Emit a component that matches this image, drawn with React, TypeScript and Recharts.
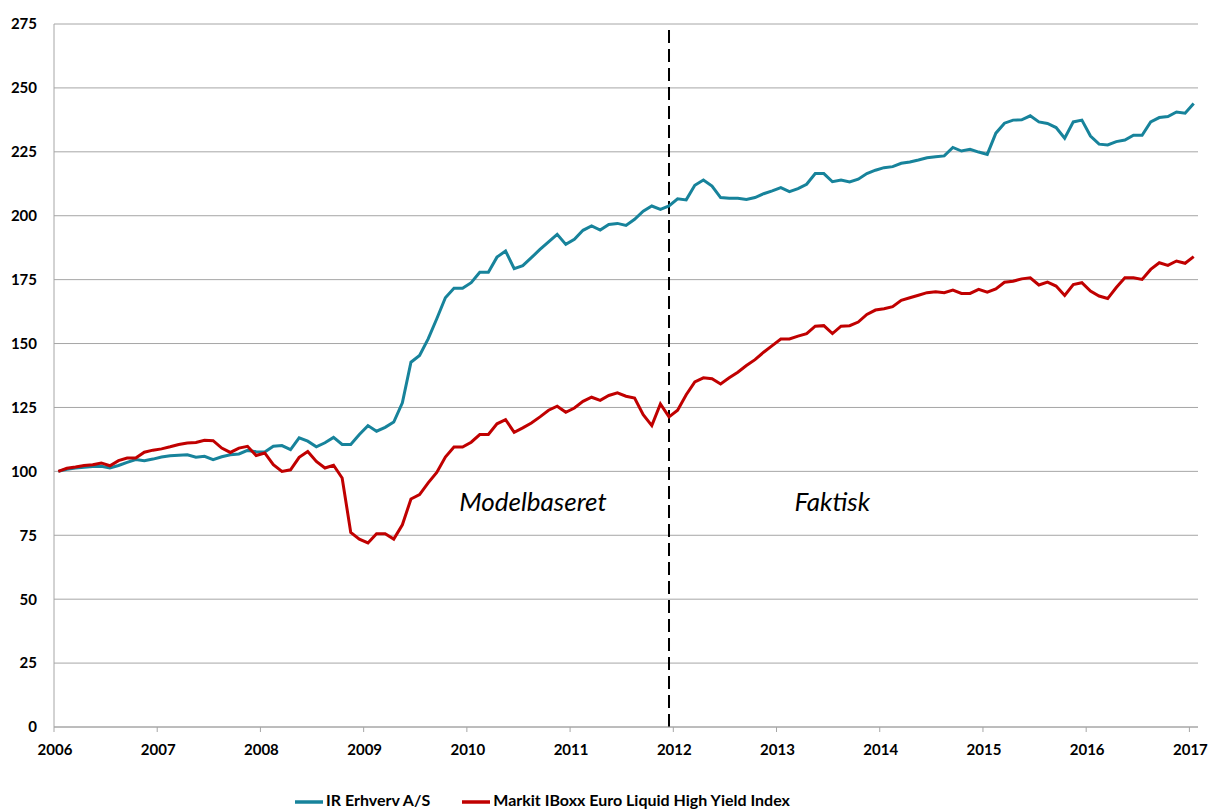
import { LineChart, Line, XAxis, YAxis, CartesianGrid, Legend, ReferenceLine, ReferenceDot } from 'recharts';

const startYear = 2006;
const yearTicks = [2006, 2007, 2008, 2009, 2010, 2011, 2012, 2013, 2014, 2015, 2016, 2017];
const valueTicks = [0, 25, 50, 75, 100, 125, 150, 175, 200, 225, 250, 275];

// monthly index values, Jan 2006 .. Jan 2017 (2006 = 100)
const irErhverv = [
  100, 100.8, 101.3, 101.6, 101.9, 102, 101.3, 102.3, 103.5, 104.6, 104.2, 104.8,
  105.6, 106.1, 106.3, 106.5, 105.5, 105.9, 104.6, 105.7, 106.5, 106.8, 108.2, 107.7,
  107.6, 109.8, 110.1, 108.5, 113.1, 111.8, 109.6, 111.2, 113.3, 110.5, 110.5, 114.4,
  117.9, 115.7, 117.2, 119.3, 126.8, 142.7, 145.3, 151.8, 159.7, 167.9, 171.6, 171.6,
  173.8, 177.9, 177.9, 183.8, 186.2, 179.3, 180.5, 183.6, 186.8, 189.8, 192.7, 188.8,
  190.8, 194.3, 196, 194.4, 196.6, 197, 196.2, 198.6, 201.8, 203.8, 202.5, 203.8,
  206.6, 206.2, 211.9, 214, 211.6, 207.1, 206.8, 206.8, 206.4, 207.1, 208.6, 209.7,
  211, 209.4, 210.6, 212.3, 216.5, 216.5, 213.3, 214, 213.2, 214.3, 216.5, 217.8,
  218.8, 219.2, 220.5, 221, 221.8, 222.7, 223.1, 223.4, 226.7, 225.3, 226, 224.9,
  224, 232.3, 236.2, 237.4, 237.5, 239.1, 236.7, 236.1, 234.5, 230.3, 236.7, 237.4,
  231.2, 228, 227.7, 229, 229.6, 231.5, 231.5, 236.7, 238.4, 238.8, 240.6, 240.1,
  243.9,
];

const markitHY = [
  100, 101.2, 101.7, 102.3, 102.6, 103.3, 102.2, 104.2, 105.2, 105.2, 107.5, 108.3,
  108.8, 109.6, 110.5, 111.1, 111.3, 112.2, 112, 109.1, 107.4, 109.1, 109.8, 106.2,
  107.2, 102.6, 100, 100.6, 105.5, 107.8, 103.9, 101.3, 102.4, 97.4, 76.1, 73.5,
  72, 75.6, 75.6, 73.5, 79.1, 89.2, 90.9, 95.5, 99.6, 105.6, 109.5, 109.5,
  111.4, 114.4, 114.4, 118.6, 120.2, 115.3, 117, 118.9, 121.3, 123.9, 125.5, 123.1,
  124.8, 127.4, 129, 127.8, 129.7, 130.7, 129.4, 128.7, 122.2, 117.9, 126.4, 121.3,
  123.9, 130, 135, 136.6, 136.2, 134.2, 136.6, 138.8, 141.4, 143.7, 146.6, 149.2,
  151.8, 151.8, 152.9, 153.9, 156.8, 157, 153.9, 156.8, 157, 158.4, 161.4, 163.1,
  163.6, 164.4, 166.9, 167.9, 168.9, 169.9, 170.3, 169.9, 170.9, 169.6, 169.6, 171.2,
  170.1, 171.4, 174, 174.4, 175.3, 175.7, 172.9, 174, 172.5, 168.8, 173.1, 173.8,
  170.5, 168.6, 167.6, 171.9, 175.7, 175.7, 175.1, 179, 181.6, 180.6, 182.3, 181.4,
  184,
];

// last modelled month (Dec 2011), observations dated mid-month
const splitMonth = 71;
const monthToYear = (i: number) => startYear + (i + 0.5) / 12;

const data = irErhverv.map((v, i) => ({ x: monthToYear(i), ir: v, markit: markitHY[i] }));

const font = 'Lato, "Open Sans", sans-serif';
const tickStyle = { fontSize: 15, fontWeight: 700, fill: '#000', fontFamily: font };
const noteStyle = { position: 'center' as const, fontSize: 26, fontStyle: 'italic', fill: '#000', fontFamily: font };

export default function App() {
  return (
    <LineChart width={1202} height={802} data={data} margin={{ top: 16, right: 12, bottom: 0, left: 0 }}>
      <CartesianGrid vertical={false} stroke="#a6a6a6" />
      <XAxis
        dataKey="x"
        type="number"
        domain={[2006, 2017 + 1 / 12]}
        ticks={yearTicks}
        tickFormatter={(v) => String(v)}
        tick={{ ...tickStyle, dx: 1 }}
        tickSize={5}
        tickMargin={12}
        stroke="#a6a6a6"
        height={61}
        interval={0}
        allowDataOverflow
      />
      <YAxis
        domain={[0, 275]}
        ticks={valueTicks}
        tick={tickStyle}
        tickLine={false}
        tickSize={6}
        tickMargin={11}
        stroke="#a6a6a6"
        width={46}
        interval={0}
      />
      <ReferenceLine x={monthToYear(splitMonth)} stroke="#000" strokeWidth={2} strokeDasharray="13 6" />
      <ReferenceDot x={2010.64} y={88} r={0} label={{ value: 'Modelbaseret', ...noteStyle }} />
      <ReferenceDot x={2013.54} y={88} r={0} label={{ value: 'Faktisk', ...noteStyle }} />
      <Line
        type="linear"
        dataKey="ir"
        name="IR Erhverv A/S"
        stroke="#17839b"
        strokeWidth={3}
        dot={false}
        isAnimationActive={false}
      />
      <Line
        type="linear"
        dataKey="markit"
        name="Markit IBoxx Euro Liquid High Yield Index"
        stroke="#c00000"
        strokeWidth={3}
        dot={false}
        isAnimationActive={false}
      />
      <Legend
        verticalAlign="bottom"
        align="left"
        iconType="plainline"
        iconSize={28}
        wrapperStyle={{ left: 287, width: 700, height: 22, lineHeight: '22px', fontFamily: font, fontSize: 16, fontWeight: 700 }}
        formatter={(value) => <span style={{ color: '#000', marginRight: 22, marginLeft: -1 }}>{value}</span>}
      />
    </LineChart>
  );
}
